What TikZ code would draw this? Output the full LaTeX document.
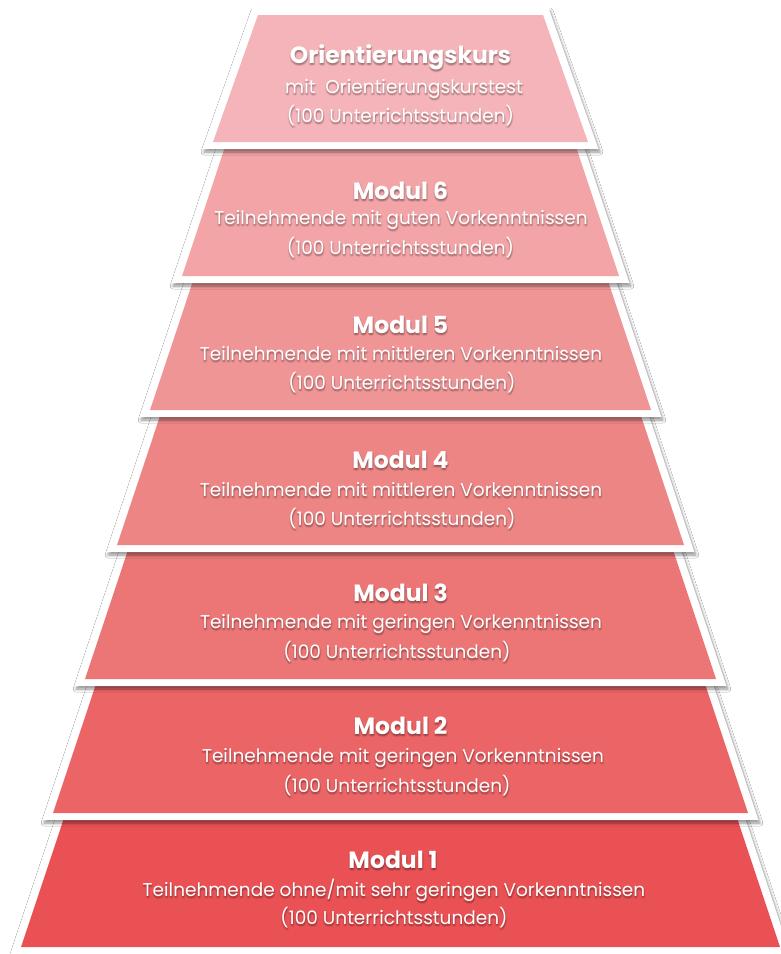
\documentclass[tikz,border=0pt]{standalone}
\usepackage{fontspec}
\setmainfont{Poppins}
\usetikzlibrary{shadows.blur}
\definecolor{c0}{HTML}{F5B4BA}
\definecolor{c6}{HTML}{F2A4A7}
\definecolor{c5}{HTML}{F09596}
\definecolor{c4}{HTML}{EE8585}
\definecolor{c3}{HTML}{EC7575}
\definecolor{c2}{HTML}{EB6466}
\definecolor{c1}{HTML}{EA5154}
\tikzset{
  tiertext/.style={text=white, font=\fontsize{18.5}{22}\selectfont, anchor=base, inner sep=0pt},
  tiertitle/.style={text=white, font=\fontsize{23.5}{26}\selectfont\bfseries, anchor=base, inner sep=0pt},
  txtshadow/.style={text=black, opacity=0.08},
  tiershadow/.style={blur shadow={shadow xshift=1.5pt, shadow yshift=-3pt, shadow opacity=45, shadow blur radius=3pt, shadow blur steps=6}}
}
% #1 colour, #2 pink top y, #3 pink bottom y, #4 bottom half width, #5 slope
\newcommand\tier[5]{%
  \pgfmathsetmacro\hwt{#4-#5*(#3-#2)}%
  \pgfmathsetmacro\ob{#3+7}%
  \pgfmathsetmacro\ot{#2-7}%
  \pgfmathsetmacro\ohb{#4+8+7*#5}%
  \pgfmathsetmacro\oht{\hwt+8-7*#5}%
  \fill[white, tiershadow] ({400.5-\oht},\ot) -- ({400.5+\oht},\ot) -- ({400.5+\ohb},\ob) -- ({400.5-\ohb},\ob) -- cycle;
  \fill[#1] ({400.5-\hwt},#2) -- ({400.5+\hwt},#2) -- ({400.5+#4},#3) -- ({400.5-#4},#3) -- cycle;
}
% text with a soft shadow made of faint shifted copies
% #1 name, #2 style, #3 x, #4 baseline y, #5 text
\newcommand\tline[5]{%
  \foreach \dx/\dy [count=\k] in {0/2, 1.5/2.5, -1/2, 1/1, 0.5/3.5}{
    \node[#2, txtshadow] (#1s\k) at (#3+\dx,#4+\dy) {#5};
  }
  \node[#2] (#1) at (#3,#4) {#5};
}
\begin{document}
\begin{tikzpicture}[x=1pt,y=-1pt]
\useasboundingbox (0,0) rectangle (781,954);
\fill[white] (0,0) rectangle (781,954);
\tier{c1}{808}{947}{379.5}{0.3333}
\tier{c2}{674}{813}{347.5}{0.3333}
\tier{c3}{540}{679}{315.5}{0.3333}
\tier{c4}{405}{545}{283.5}{0.3333}
\tier{c5}{271}{410}{250.5}{0.3333}
\tier{c6}{137}{276}{218.5}{0.3333}
\tier{c0}{15}{142}{187.5}{0.354}
% texts
\tline{o1}{tiertitle}{400.5}{63}{Orientierungskurs}
\tline{o2}{tiertext}{404}{93}{mit\ \ Orientierungskurstest}
\tline{o3}{tiertext}{400.5}{122}{(100 Unterrichtsstunden)}
\tline{m6a}{tiertitle}{400.5}{199}{Modul 6}
\tline{m6b}{tiertext}{401}{224}{Teilnehmende mit guten Vorkenntnissen}
\tline{m6c}{tiertext}{400.5}{254}{(100 Unterrichtsstunden)}
\tline{m5a}{tiertitle}{400.5}{333}{Modul 5}
\tline{m5b}{tiertext}{401}{360}{Teilnehmende mit mittleren Vorkenntnissen}
\tline{m5c}{tiertext}{402}{389}{(100 Unterrichtsstunden)}
\tline{m4a}{tiertitle}{400.5}{468}{Modul 4}
\tline{m4b}{tiertext}{401}{496}{Teilnehmende mit mittleren Vorkenntnissen}
\tline{m4c}{tiertext}{402}{525}{(100 Unterrichtsstunden)}
\tline{m3a}{tiertitle}{400.5}{601}{Modul 3}
\tline{m3b}{tiertext}{401}{628}{Teilnehmende mit geringen Vorkenntnissen}
\tline{m3c}{tiertext}{397}{658}{(100 Unterrichtsstunden)}
\tline{m2a}{tiertitle}{400.5}{734}{Modul 2}
\tline{m2b}{tiertext}{403}{762}{Teilnehmende mit geringen Vorkenntnissen}
\tline{m2c}{tiertext}{397}{792}{(100 Unterrichtsstunden)}
\tline{m1a}{tiertitle}{393}{868}{Modul 1}
\tline{m1b}{tiertext}{394}{896}{Teilnehmende ohne/mit sehr geringen Vorkenntnissen}
\tline{m1c}{tiertext}{394}{924}{(100 Unterrichtsstunden)}
\end{tikzpicture}
\end{document}
